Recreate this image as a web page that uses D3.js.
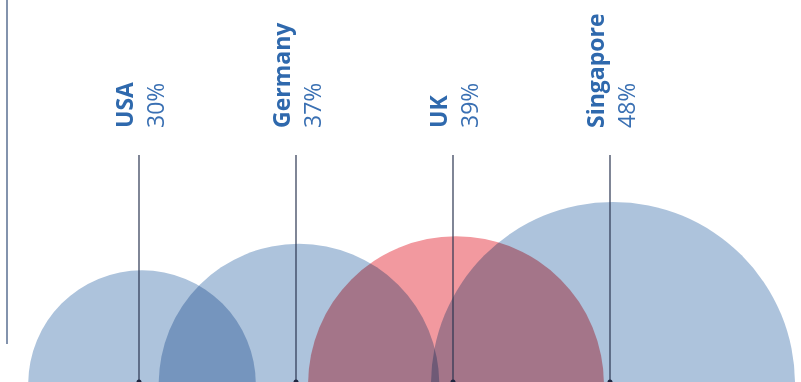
<!DOCTYPE html>
<html lang="en">
  <head>
    <meta charset="utf-8">
    <title>Share by country</title>
    <script src="https://d3js.org/d3.v7.min.js"></script>
    <style>
      body { margin:0; background:#fff; }
      svg { display:block; font-family:"Open Sans", sans-serif; }
      .bubble { mix-blend-mode:multiply; }
    </style>
  </head>
  <body>
    <svg id="plotarea" width="801" height="382"></svg>
    <script>
        // data
        var countries = ["USA", "Germany", "UK", "Singapore"];
        var shares = [30, 37, 39, 48];
        var colors = ["#adc3dc", "#adc3dc", "#f2999f", "#adc3dc"];

        var width = 801, height = 382;
        var baseY = 384;

        var svg = d3.select('#plotarea');

        var x = d3.scalePoint()
            .domain(countries)
            .range([139, 610]);

        var r = d3.scaleLinear()
            .domain([0, 48])
            .range([0, 182]);

        var dataset = countries.map(function(c, i) {
            return { name: c, value: shares[i], color: colors[i] };
        });

        // left rule
        svg.append('line')
            .attr('x1', 7).attr('x2', 7)
            .attr('y1', 0).attr('y2', 344)
            .attr('stroke', '#8393ad')
            .attr('stroke-width', 2);

        // half circles
        svg.append('g')
            .selectAll('circle')
            .data(dataset)
            .enter()
            .append('circle')
            .attr('class', 'bubble')
            .attr('cx', function(d) { return x(d.name) + 3; })
            .attr('cy', baseY)
            .attr('r', function(d) { return r(d.value); })
            .attr('fill', function(d) { return d.color; });

        // pointer lines
        var g = svg.append('g');
        g.selectAll('line')
            .data(dataset)
            .enter()
            .append('line')
            .attr('x1', function(d) { return x(d.name); })
            .attr('x2', function(d) { return x(d.name); })
            .attr('y1', 155)
            .attr('y2', height)
            .attr('stroke', '#2b3450')
            .attr('stroke-width', 1.2);

        g.selectAll('circle')
            .data(dataset)
            .enter()
            .append('circle')
            .attr('cx', function(d) { return x(d.name); })
            .attr('cy', height)
            .attr('r', 2.5)
            .attr('fill', '#1f2640');

        // labels
        var labels = svg.append('g')
            .selectAll('g')
            .data(dataset)
            .enter()
            .append('g')
            .attr('transform', function(d) { return 'translate(' + x(d.name) + ',128) rotate(-90)'; });

        labels.append('text')
            .attr('x', 0)
            .attr('y', -6)
            .attr('fill', '#2f69ad')
            .attr('font-weight', 700)
            .attr('font-size', '23px')
            .text(function(d) { return d.name; });

        labels.append('text')
            .attr('x', 0)
            .attr('y', 25)
            .attr('fill', '#3a70b3')
            .attr('font-size', '23px')
            .text(function(d) { return d.value + '%'; });
    </script>
  </body>
</html>
